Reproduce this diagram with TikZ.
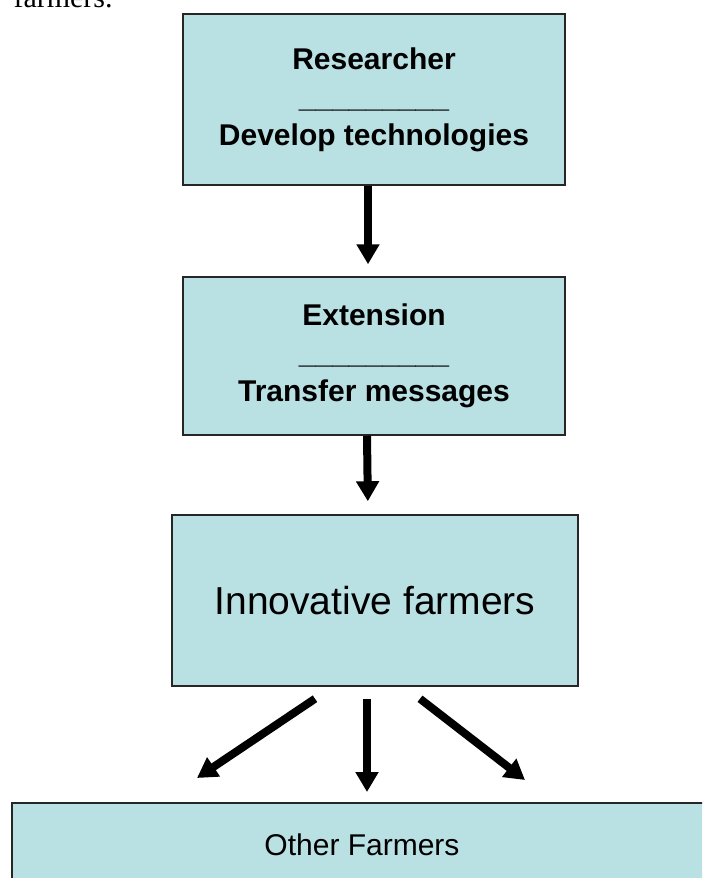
\documentclass[tikz,border=0pt]{standalone}
\usepackage{fontspec}
\setmainfont{Liberation Sans}
\newfontfamily\bodyserif{Liberation Serif}
\usetikzlibrary{arrows.meta}

\definecolor{boxfill}{HTML}{B9E0E3}
\definecolor{boxline}{HTML}{262626}

\begin{document}
\begin{tikzpicture}[x=1pt, y=-1pt,
        stage/.style={rectangle, draw=boxline, line width=1.5pt, fill=boxfill,
            align=center, inner sep=0pt},
        headed/.style={stage, font=\fontsize{30}{38}\selectfont\bfseries},
        flow/.style={line width=8pt, -{Triangle[width=22pt, length=20pt]}},
    ]
        \useasboundingbox (0,0) rectangle (702,878);
        \clip (0,0) rectangle (702,878);

        % Running text above the chart
        \node[anchor=base west, font=\bodyserif\fontsize{30}{36}\selectfont]
            (caption) at (10,8) {farmers.};

        % Chain of boxes
        \node[headed, minimum width=382pt, minimum height=171pt] (res) at (374,99.5)
            {Researcher\\\_\_\_\_\_\_\_\_\_\\Develop technologies};
        \node[headed, minimum width=382pt, minimum height=158pt] (ext) at (374,356)
            {Extension\\\_\_\_\_\_\_\_\_\_\\Transfer messages};
        \node[stage, minimum width=406pt, minimum height=171pt,
            font=\fontsize{39}{47}\selectfont] (inn) at (375,600.5) {Innovative farmers};
        \node[stage, minimum width=700pt, minimum height=84pt,
            font=\fontsize{30}{36}\selectfont] (oth) at (362,845) {Other Farmers};

        % Down arrows
        \draw[flow, shorten >=12pt] ([xshift=-6pt]res.south) -- ([xshift=-6pt]ext.north);
        \draw[flow, shorten >=13pt] ([xshift=-7pt]ext.south) -- ([xshift=-7pt]inn.north);

        % Spread to other farmers
        \coordinate (tipL) at (197,778);
        \coordinate (tipM) at (367,792);
        \coordinate (tipR) at (525,780);
        \foreach \dx/\tip in {-60/tipL, -8/tipM, 45/tipR} {
            \draw[flow] ([xshift=\dx pt, yshift=-12pt]inn.south) -- (\tip);
        }
    \end{tikzpicture}
\end{document}
